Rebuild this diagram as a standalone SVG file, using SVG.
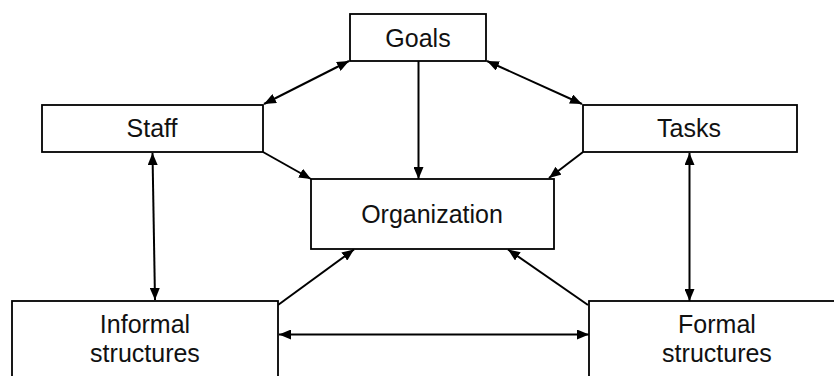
<svg xmlns="http://www.w3.org/2000/svg" width="834" height="376" viewBox="0 0 834 376">
<style>
.box{fill:#fff;stroke:#000;stroke-width:1.8}
.lbl{font-family:"Liberation Sans",Arial,sans-serif;font-size:25px;fill:#111;text-anchor:middle}
.con{stroke:#000;stroke-width:2;fill:none}
</style>
<defs>
<marker id="ah" markerUnits="userSpaceOnUse" markerWidth="12" markerHeight="10" viewBox="0 0 12 10" refX="12" refY="5" orient="auto-start-reverse">
<path d="M0,0 L12,5 L0,10 Z" fill="#000"/>
</marker>
</defs>
<rect width="834" height="376" fill="#fff"/>
<g id="connectors">
<line class="con" x1="349" y1="61" x2="264" y2="104" marker-start="url(#ah)" marker-end="url(#ah)"/>
<line class="con" x1="487" y1="61" x2="582" y2="104" marker-start="url(#ah)" marker-end="url(#ah)"/>
<line class="con" x1="418.5" y1="61" x2="418.5" y2="179" marker-end="url(#ah)"/>
<line class="con" x1="263" y1="152" x2="311" y2="179" marker-end="url(#ah)"/>
<line class="con" x1="583" y1="152" x2="549" y2="178" marker-end="url(#ah)"/>
<line class="con" x1="152.5" y1="153" x2="155" y2="300" marker-start="url(#ah)" marker-end="url(#ah)"/>
<line class="con" x1="689.5" y1="153" x2="689.5" y2="301" marker-start="url(#ah)" marker-end="url(#ah)"/>
<line class="con" x1="278" y1="305" x2="354" y2="249.5" marker-end="url(#ah)"/>
<line class="con" x1="588" y1="305" x2="508" y2="249.5" marker-end="url(#ah)"/>
<line class="con" x1="279" y1="334.5" x2="589" y2="334.5" marker-start="url(#ah)" marker-end="url(#ah)"/>
</g>
<g id="goals">
<rect class="box" x="350" y="14" width="136" height="47"/>
<text class="lbl" x="418" y="47">Goals</text>
</g>
<g id="staff">
<rect class="box" x="42" y="105" width="221" height="47"/>
<text class="lbl" x="152" y="137">Staff</text>
</g>
<g id="tasks">
<rect class="box" x="583" y="105" width="214" height="47"/>
<text class="lbl" x="689" y="137">Tasks</text>
</g>
<g id="organization">
<rect class="box" x="311" y="179" width="243" height="70"/>
<text class="lbl" x="432" y="223">Organization</text>
</g>
<g id="informal">
<rect class="box" x="12" y="301" width="266" height="90"/>
<text class="lbl" x="145" y="333">Informal</text>
<text class="lbl" x="145" y="362">structures</text>
</g>
<g id="formal">
<rect class="box" x="589" y="301" width="260" height="90"/>
<text class="lbl" x="717" y="333">Formal</text>
<text class="lbl" x="717" y="362">structures</text>
</g>
</svg>
